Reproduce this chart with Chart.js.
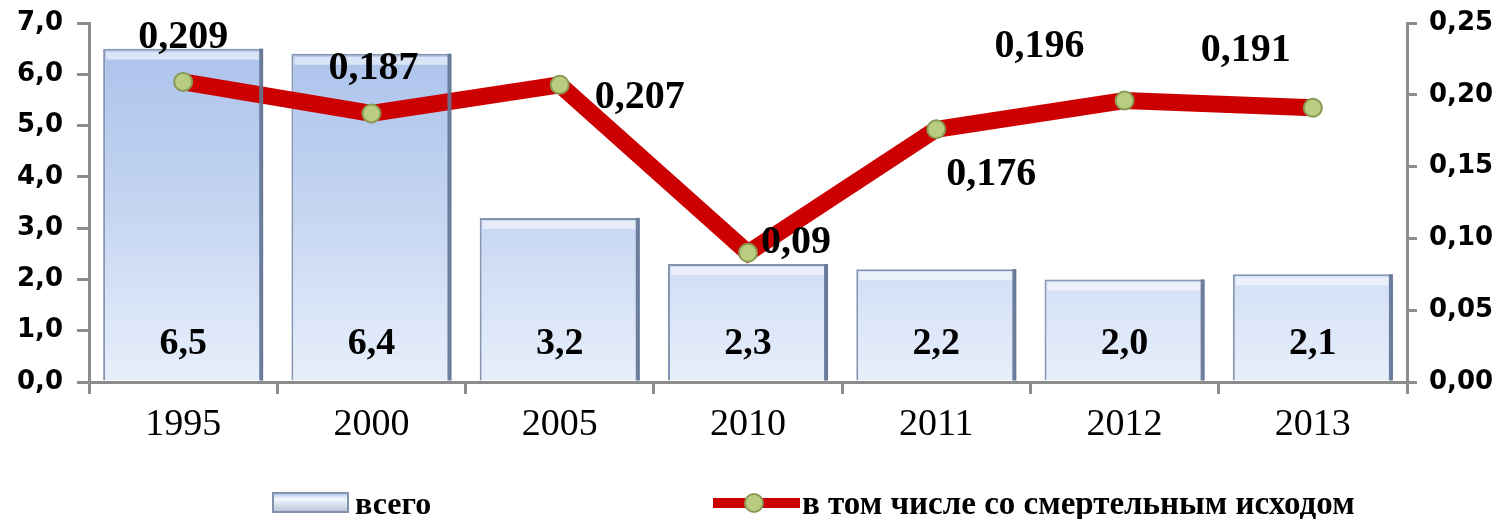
<!DOCTYPE html>
<html>
<head>
<meta charset="utf-8">
<script src="https://cdn.jsdelivr.net/npm/chart.js@4.4.0/dist/chart.umd.min.js"></script>
<style>
  html, body { margin: 0; padding: 0; background: #fff; }
  #wrap { position: relative; width: 1500px; height: 519px; }
</style>
</head>
<body>
<div id="wrap"><canvas id="chart" width="1500" height="519"></canvas></div>
<script>
const years = ["1995", "2000", "2005", "2010", "2011", "2012", "2013"];
const totalValues = [6.5, 6.4, 3.2, 2.3, 2.2, 2.0, 2.1];
const fatalValues = [0.209, 0.187, 0.207, 0.09, 0.176, 0.196, 0.191];
const leftTicks = [0, 1, 2, 3, 4, 5, 6, 7];
const rightTicks = [0, 0.05, 0.1, 0.15, 0.2, 0.25];
const seriesNames = ["всего", "в том числе со смертельным исходом"];

// where each line label sits relative to its point (px)
const lineLabelOffsets = [
  [0, -44], [2, -45], [80, 13], [48, -10], [55, 45], [-85, -54], [-67, -57]
];

const comma = (v, d) => v.toFixed(d).replace(".", ",");

const barFill = (ctx, area) => {
  const g = ctx.createLinearGradient(0, area.top, 0, area.bottom);
  g.addColorStop(0, "#a8c0ea");
  g.addColorStop(0.5, "#c3d4f1");
  g.addColorStop(1, "#e8effb");
  return g;
};

// fixed axis box sizes, no extra label padding
const fixY = (w) => (s) => {
  s.width = w;
  s.paddingTop = 0;
  s.paddingBottom = 0;
};

const labelsPlugin = {
  id: "labels",
  afterDatasetsDraw(chart) {
    const ctx = chart.ctx;
    const area = chart.chartArea;
    ctx.save();
    ctx.textAlign = "center";
    ctx.textBaseline = "middle";

    // bar top bevel + darker right edge
    chart.getDatasetMeta(0).data.forEach((bar) => {
      const w = bar.width;
      ctx.fillStyle = "rgba(255,255,255,0.55)";
      ctx.fillRect(bar.x - w / 2 + 3, bar.y + 3, w - 6, 8);
      ctx.fillStyle = "rgba(100,118,150,0.9)";
      ctx.fillRect(bar.x + w / 2 - 4, bar.y, 4, bar.base - bar.y);
    });

    ctx.fillStyle = "#000";
    ctx.font = "bold 38px 'Liberation Serif'";
    chart.getDatasetMeta(0).data.forEach((bar, i) => {
      ctx.fillText(comma(totalValues[i], 1), bar.x, area.bottom - 38);
    });

    ctx.font = "bold 40px 'Liberation Serif'";
    chart.getDatasetMeta(1).data.forEach((pt, i) => {
      const off = lineLabelOffsets[i];
      ctx.fillText(String(fatalValues[i]).replace(".", ","), pt.x + off[0], pt.y + off[1]);
    });
    ctx.restore();
  },
  afterDraw(chart) {
    const ctx = chart.ctx;
    ctx.save();
    // legend: bar swatch
    const g = ctx.createLinearGradient(0, 493, 0, 512);
    g.addColorStop(0, "#a8c0ea");
    g.addColorStop(0.3, "#f4f8ff");
    g.addColorStop(1, "#b9c3d6");
    ctx.fillStyle = g;
    ctx.fillRect(273, 493, 75, 19);
    ctx.strokeStyle = "#8393ad";
    ctx.lineWidth = 2;
    ctx.strokeRect(273, 493, 75, 19);

    // legend: line swatch
    ctx.strokeStyle = "#cc0000";
    ctx.lineWidth = 10;
    ctx.beginPath();
    ctx.moveTo(713, 503);
    ctx.lineTo(800, 503);
    ctx.stroke();
    ctx.fillStyle = "#b9cc80";
    ctx.strokeStyle = "#8a9a55";
    ctx.lineWidth = 2;
    ctx.beginPath();
    ctx.arc(754, 503, 9, 0, Math.PI * 2);
    ctx.fill();
    ctx.stroke();

    ctx.fillStyle = "#000";
    ctx.textAlign = "left";
    ctx.textBaseline = "alphabetic";
    ctx.font = "bold 32px 'Liberation Serif'";
    ctx.fillText(seriesNames[0], 355, 514);
    ctx.font = "bold 33px 'Liberation Serif'";
    ctx.fillText(seriesNames[1], 802, 514);
    ctx.restore();
  },
};

new Chart(document.getElementById("chart"), {
  type: "bar",
  data: {
    labels: years,
    datasets: [
      {
        label: seriesNames[0],
        data: totalValues,
        yAxisID: "y",
        backgroundColor: (c) => {
          const a = c.chart.chartArea;
          return a ? barFill(c.chart.ctx, a) : "#c3d4f1";
        },
        borderColor: "#8596b2",
        borderWidth: 2,
        borderSkipped: "bottom",
        barPercentage: 0.85,
        categoryPercentage: 1,
        order: 2,
      },
      {
        type: "line",
        label: seriesNames[1],
        data: fatalValues,
        yAxisID: "y1",
        borderColor: "#cc0000",
        borderWidth: 17,
        pointRadius: 9,
        pointBackgroundColor: "#b9cc80",
        pointBorderColor: "#8a9a55",
        pointBorderWidth: 2,
        tension: 0,
        order: 1,
      },
    ],
  },
  options: {
    responsive: false,
    animation: false,
    layout: { padding: { top: 23, left: 0, right: 0, bottom: 0 } },
    plugins: { legend: { display: false }, tooltip: { enabled: false } },
    scales: {
      x: {
        offset: true,
        grid: { offset: true, drawOnChartArea: false, color: "#8c8c8c", lineWidth: 3, tickLength: 12 },
        border: { color: "#8c8c8c", width: 3 },
        ticks: { color: "#000", font: { family: "Liberation Serif", size: 38 }, padding: 8 },
        afterFit: (s) => { s.height = 137; },
      },
      y: {
        position: "left",
        min: 0,
        max: 7,
        afterBuildTicks: (s) => { s.ticks = leftTicks.map((v) => ({ value: v })); },
        grid: { drawOnChartArea: false, color: "#8c8c8c", lineWidth: 3, tickLength: 12 },
        border: { color: "#8c8c8c", width: 3 },
        ticks: { color: "#000", font: { family: "DejaVu Sans", size: 26, weight: "bold" }, padding: 14, callback: (v) => comma(v, 1) },
        afterFit: fixY(89),
      },
      y1: {
        position: "right",
        min: 0,
        max: 0.25,
        afterBuildTicks: (s) => { s.ticks = rightTicks.map((v) => ({ value: v })); },
        grid: { drawOnChartArea: false, color: "#8c8c8c", lineWidth: 3, tickLength: 10 },
        border: { color: "#8c8c8c", width: 3 },
        ticks: { color: "#000", font: { family: "DejaVu Sans", size: 26, weight: "bold" }, padding: 12, callback: (v) => comma(v, 2) },
        afterFit: fixY(93),
      },
    },
  },
  plugins: [labelsPlugin],
});
</script>
</body>
</html>
